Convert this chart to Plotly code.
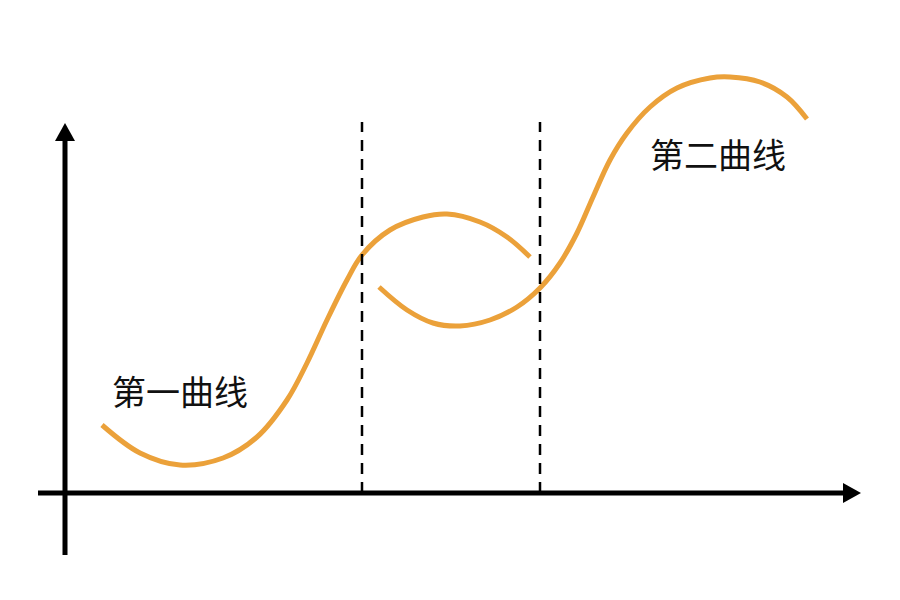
import plotly.graph_objects as go

# Data (pixel-space reading, y measured upward: y = 600 - pixel_row)
curve1_x = [102, 140, 180, 223, 257, 287, 307, 327, 347, 362, 390, 423, 447, 480, 507, 530]
curve1_y = [175, 147, 135, 142, 163, 200, 237, 280, 320, 345, 370, 383, 386, 378, 363, 343]

curve2_x = [379, 407, 433, 460, 490, 517, 540, 560, 577, 593, 610, 627, 650, 677, 710, 730, 760, 787, 807]
curve2_y = [313, 290, 277, 274, 280, 293, 312, 337, 367, 403, 440, 467, 493, 512, 522, 523, 518, 503, 481]

labels = ["第一曲线", "第二曲线"]
label_x = [180, 718]
label_y = [210, 447]

divider_x = [362, 540]
divider_top = 478

origin_x = 65
origin_y = 107
xaxis_start = 38
xaxis_end = 843
xaxis_tip = 861
yaxis_bottom = 45
yaxis_end = 459
yaxis_tip = 477

ORANGE = "#EBA13A"

fig = go.Figure()

for cx, cy in [(curve1_x, curve1_y), (curve2_x, curve2_y)]:
    fig.add_trace(go.Scatter(x=cx, y=cy, mode="lines",
                             line=dict(color=ORANGE, width=5, shape="spline", smoothing=1.0),
                             hoverinfo="skip", showlegend=False))

# axes arrowheads as filled triangles
fig.add_trace(go.Scatter(x=[xaxis_end, xaxis_tip, xaxis_end, xaxis_end],
                         y=[origin_y + 10, origin_y, origin_y - 10, origin_y + 10],
                         fill="toself", fillcolor="black", mode="lines",
                         line=dict(color="black", width=0), hoverinfo="skip", showlegend=False))
fig.add_trace(go.Scatter(x=[origin_x - 10, origin_x, origin_x + 10, origin_x - 10],
                         y=[yaxis_end, yaxis_tip, yaxis_end, yaxis_end],
                         fill="toself", fillcolor="black", mode="lines",
                         line=dict(color="black", width=0), hoverinfo="skip", showlegend=False))

shapes = [
    dict(type="line", x0=xaxis_start, y0=origin_y, x1=xaxis_end + 2, y1=origin_y,
         line=dict(color="black", width=5)),
    dict(type="line", x0=origin_x, y0=yaxis_bottom, x1=origin_x, y1=yaxis_end + 2,
         line=dict(color="black", width=5)),
]
for dx in divider_x:
    shapes.append(dict(type="line", x0=dx, y0=origin_y, x1=dx, y1=divider_top,
                       line=dict(color="black", width=2.5, dash="11px,8px")))

annotations = [dict(x=lx, y=ly, text=t, showarrow=False,
                    font=dict(family="Noto Sans CJK SC", size=34, color="#111111"))
               for t, lx, ly in zip(labels, label_x, label_y)]

# ranges offset by 8px to compensate for the page's default body margin
fig.update_layout(
    width=900, height=600,
    margin=dict(l=0, r=0, t=0, b=0),
    paper_bgcolor="white", plot_bgcolor="white",
    xaxis=dict(range=[8, 908], visible=False, fixedrange=True),
    yaxis=dict(range=[-8, 592], visible=False, fixedrange=True),
    shapes=shapes, annotations=annotations,
)

fig.write_html("out.html")
